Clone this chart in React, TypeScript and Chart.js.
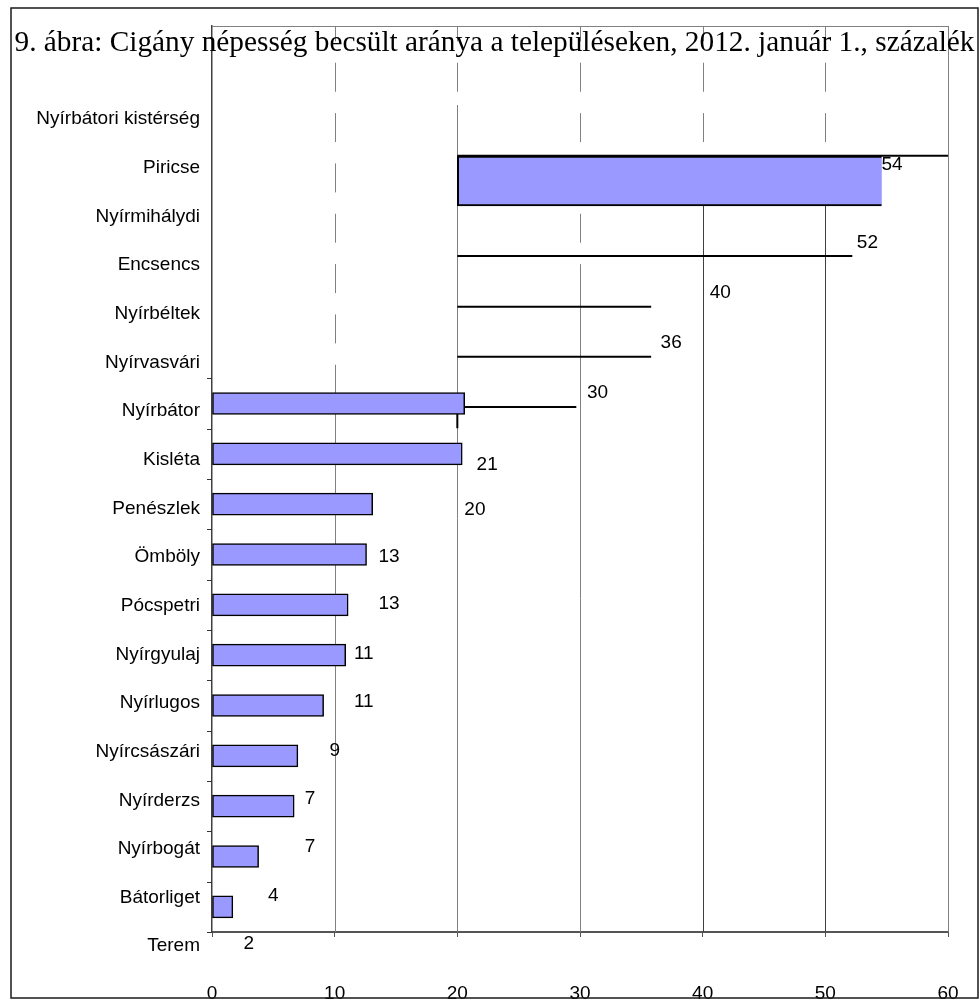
import React, { useEffect, useRef } from 'react';
import { Chart, registerables } from 'chart.js';

Chart.register(...registerables);

// ---------- data ----------
const TITLE = '9. ábra: Cigány népesség becsült aránya a településeken, 2012. január 1., százalék';

const categories = [
  'Nyírbátori kistérség',
  'Piricse',
  'Nyírmihálydi',
  'Encsencs',
  'Nyírbéltek',
  'Nyírvasvári',
  'Nyírbátor',
  'Kisléta',
  'Penészlek',
  'Ömböly',
  'Pócspetri',
  'Nyírgyulaj',
  'Nyírlugos',
  'Nyírcsászári',
  'Nyírderzs',
  'Nyírbogát',
  'Bátorliget',
  'Terem',
];

const xTicks = [0, 10, 20, 30, 40, 50, 60];

// filled bars drawn in the lower part (value, percent)
const barCategories = [
  'Nyírbátor', 'Kisléta', 'Penészlek', 'Ömböly', 'Pócspetri', 'Nyírgyulaj',
  'Nyírlugos', 'Nyírcsászári', 'Nyírderzs', 'Nyírbogát', 'Bátorliget',
];
const barValues = [20.6, 20.4, 13.1, 12.6, 11.1, 10.9, 9.1, 7.0, 6.7, 3.8, 1.7];

// the large floating bar (Piricse)
const floatStart = 20;
const floatEnd = 54.6;
const floatRow = 3.08;

// the stray horizontal strokes (in value / row units)
const segStart = [20, 20, 20, 20, 20];
const segEnd = [60, 52.2, 35.8, 35.8, 29.7];
const segRow = [2.58, 4.57, 5.58, 6.57, 7.57];
const stubEndRow = 7.99;

// value labels
const valueLabels = [54, 52, 40, 36, 30, 21, 20, 13, 13, 11, 11, 9, 7, 7, 4, 2];
const valueLabelRows = [2.76, 4.31, 5.3, 6.3, 7.29, 8.72, 9.62, 10.55, 11.48, 12.48, 13.43, 14.4, 15.36, 16.31, 17.28, 18.24];

// vertical grid lines: value, row where the line becomes solid, solid colour
const gridValues = [10, 20, 30, 40, 50, 60];
const gridSolidFrom = [7.29, 1.57, 4.75, 2.58, 2.58, 0];
const gridSolidColors = ['#808080', '#808080', '#808080', '#404040', '#404040', '#808080'];

// ---------- layout / style constants ----------
const ROWS = 18;
const LABEL_START = 1.851;
const LABEL_STEP = 0.9666;
const DASH_ON = 0.576;
const DASH_PHASE = 0.27;
const FIRST_TICK_ROW = 7;
const VALUE_LABEL_GAP = 7;
const SANS = '"Liberation Sans", Arial, sans-serif';
const SERIF = '"Liberation Serif", "Times New Roman", serif';
const BAR_FILL = '#9999FF';

const decorPlugin = {
  id: 'decor',
  beforeDatasetsDraw(chart: any) {
    const { ctx, chartArea, scales } = chart;
    const xs = scales.x;
    const ys = scales.y;
    const top = chartArea.top;
    const bottom = chartArea.bottom;
    const band = ys.getPixelForValue(1) - ys.getPixelForValue(0);
    ctx.save();
    ctx.lineWidth = 1;
    // top frame
    ctx.strokeStyle = '#808080';
    ctx.beginPath();
    ctx.moveTo(xs.getPixelForValue(0), Math.round(top) + 0.5);
    ctx.lineTo(xs.getPixelForValue(60) + 1, Math.round(top) + 0.5);
    ctx.stroke();
    gridValues.forEach((v, i) => {
      const x = Math.round(xs.getPixelForValue(v)) + 0.5;
      const ySolid = ys.getPixelForValue(gridSolidFrom[i]);
      if (ySolid > top + 1) {
        ctx.setLineDash([DASH_ON * band, (1 - DASH_ON) * band]);
        ctx.lineDashOffset = DASH_PHASE * band;
        ctx.strokeStyle = '#808080';
        ctx.beginPath();
        ctx.moveTo(x, top);
        ctx.lineTo(x, ySolid);
        ctx.stroke();
      }
      ctx.setLineDash([]);
      ctx.strokeStyle = gridSolidColors[i];
      ctx.beginPath();
      ctx.moveTo(x, ySolid);
      ctx.lineTo(x, bottom);
      ctx.stroke();
    });
    // small tick marks on the category axis
    ctx.strokeStyle = '#333';
    for (let k = FIRST_TICK_ROW; k <= ROWS; k++) {
      const y = Math.round(ys.getPixelForValue(k)) + 0.5;
      ctx.beginPath();
      ctx.moveTo(chartArea.left - 5, y);
      ctx.lineTo(chartArea.left, y);
      ctx.stroke();
    }
    ctx.restore();
  },
  afterDatasetsDraw(chart: any) {
    const { ctx, scales } = chart;
    const xs = scales.x;
    const ys = scales.y;
    ctx.save();
    ctx.font = '19px ' + SANS;
    ctx.fillStyle = '#000';
    ctx.textAlign = 'left';
    ctx.textBaseline = 'middle';
    valueLabels.forEach((v, i) => {
      ctx.fillText(String(v), xs.getPixelForValue(v) + VALUE_LABEL_GAP, ys.getPixelForValue(valueLabelRows[i]));
    });
    ctx.restore();
  },
  afterDraw(chart: any) {
    const { ctx } = chart;
    ctx.save();
    ctx.font = '29.3px ' + SERIF;
    ctx.fillStyle = '#000';
    ctx.textAlign = 'center';
    ctx.textBaseline = 'alphabetic';
    ctx.fillText(TITLE, 494.5, 50.5);
    ctx.strokeStyle = '#1a1a1a';
    ctx.lineWidth = 1.5;
    ctx.strokeRect(11, 8, 967, 990);
    ctx.restore();
  },
};

export default function App() {
  const canvasRef = useRef<HTMLCanvasElement | null>(null);

  useEffect(() => {
    if (!canvasRef.current) return;

    const barData = barCategories.map((c, i) => ({ x: barValues[i], y: categories.indexOf(c) + 1.5 }));

    const lineDatasets = segStart.map((s, i) => {
      const pts: any[] = [
        { x: segEnd[i], y: segRow[i] },
        { x: s, y: segRow[i] },
      ];
      if (i === segStart.length - 1) pts.push({ x: s, y: stubEndRow });
      return {
        type: 'line' as const,
        label: 'seg' + i,
        data: pts,
        borderColor: '#000',
        borderWidth: 2,
        pointRadius: 0,
        fill: false,
        tension: 0,
        order: 3,
      };
    });

    const chart = new Chart(canvasRef.current, {
      type: 'bar',
      data: {
        datasets: [
          ...lineDatasets,
          {
            type: 'bar' as const,
            label: 'Piricse',
            data: [{ x: [floatStart, floatEnd], y: floatRow }] as any,
            backgroundColor: BAR_FILL,
            borderColor: '#000',
            borderWidth: 2,
            borderSkipped: 'right',
            barThickness: 50,
            grouped: false,
            order: 2,
          },
          {
            type: 'bar' as const,
            label: 'Arány',
            data: barData as any,
            backgroundColor: BAR_FILL,
            borderColor: '#000',
            borderWidth: 1.5,
            borderSkipped: false,
            barThickness: 22,
            grouped: false,
            order: 1,
          },
        ] as any,
      },
      options: {
        animation: false,
        responsive: true,
        maintainAspectRatio: false,
        indexAxis: 'y',
        layout: { padding: { top: 26, right: 32, left: 0, bottom: 0 } },
        plugins: {
          legend: { display: false },
          tooltip: { enabled: false },
          title: { display: false },
        },
        scales: {
          x: {
            type: 'linear',
            min: 0,
            max: 60,
            offset: false,
            afterBuildTicks: (scale: any) => {
              scale.ticks = xTicks.map((v) => ({ value: v }));
            },
            afterFit: (scale: any) => {
              scale.height = 71;
              scale.paddingLeft = 0;
              scale.paddingRight = 0;
            },
            ticks: {
              autoSkip: false,
              maxRotation: 0,
              padding: 45,
              color: '#000',
              font: { family: SANS, size: 19 },
            },
            grid: {
              display: true,
              drawOnChartArea: false,
              drawTicks: true,
              tickLength: 5,
              color: '#555',
              offset: false,
            },
            border: { display: true, color: '#555', width: 2 },
          },
          y: {
            type: 'linear',
            min: 0,
            max: ROWS,
            reverse: true,
            offset: false,
            afterBuildTicks: (scale: any) => {
              scale.ticks = categories.map((_, i) => ({ value: LABEL_START + LABEL_STEP * i }));
            },
            afterFit: (scale: any) => {
              scale.width = 212;
              scale.paddingTop = 0;
              scale.paddingBottom = 0;
            },
            ticks: {
              autoSkip: false,
              padding: 12,
              color: '#000',
              font: { family: SANS, size: 19 },
              callback: (_v: any, i: number) => categories[i],
            },
            grid: { display: false, drawTicks: false, offset: false },
            border: { display: true, color: '#404040', width: 1.5 },
          },
        },
      } as any,
      plugins: [decorPlugin],
    });

    return () => chart.destroy();
  }, []);

  return (
    <div style={{ position: 'absolute', left: 0, top: 0, width: 980, height: 1003, background: '#fff' }}>
      <canvas ref={canvasRef} />
    </div>
  );
}
